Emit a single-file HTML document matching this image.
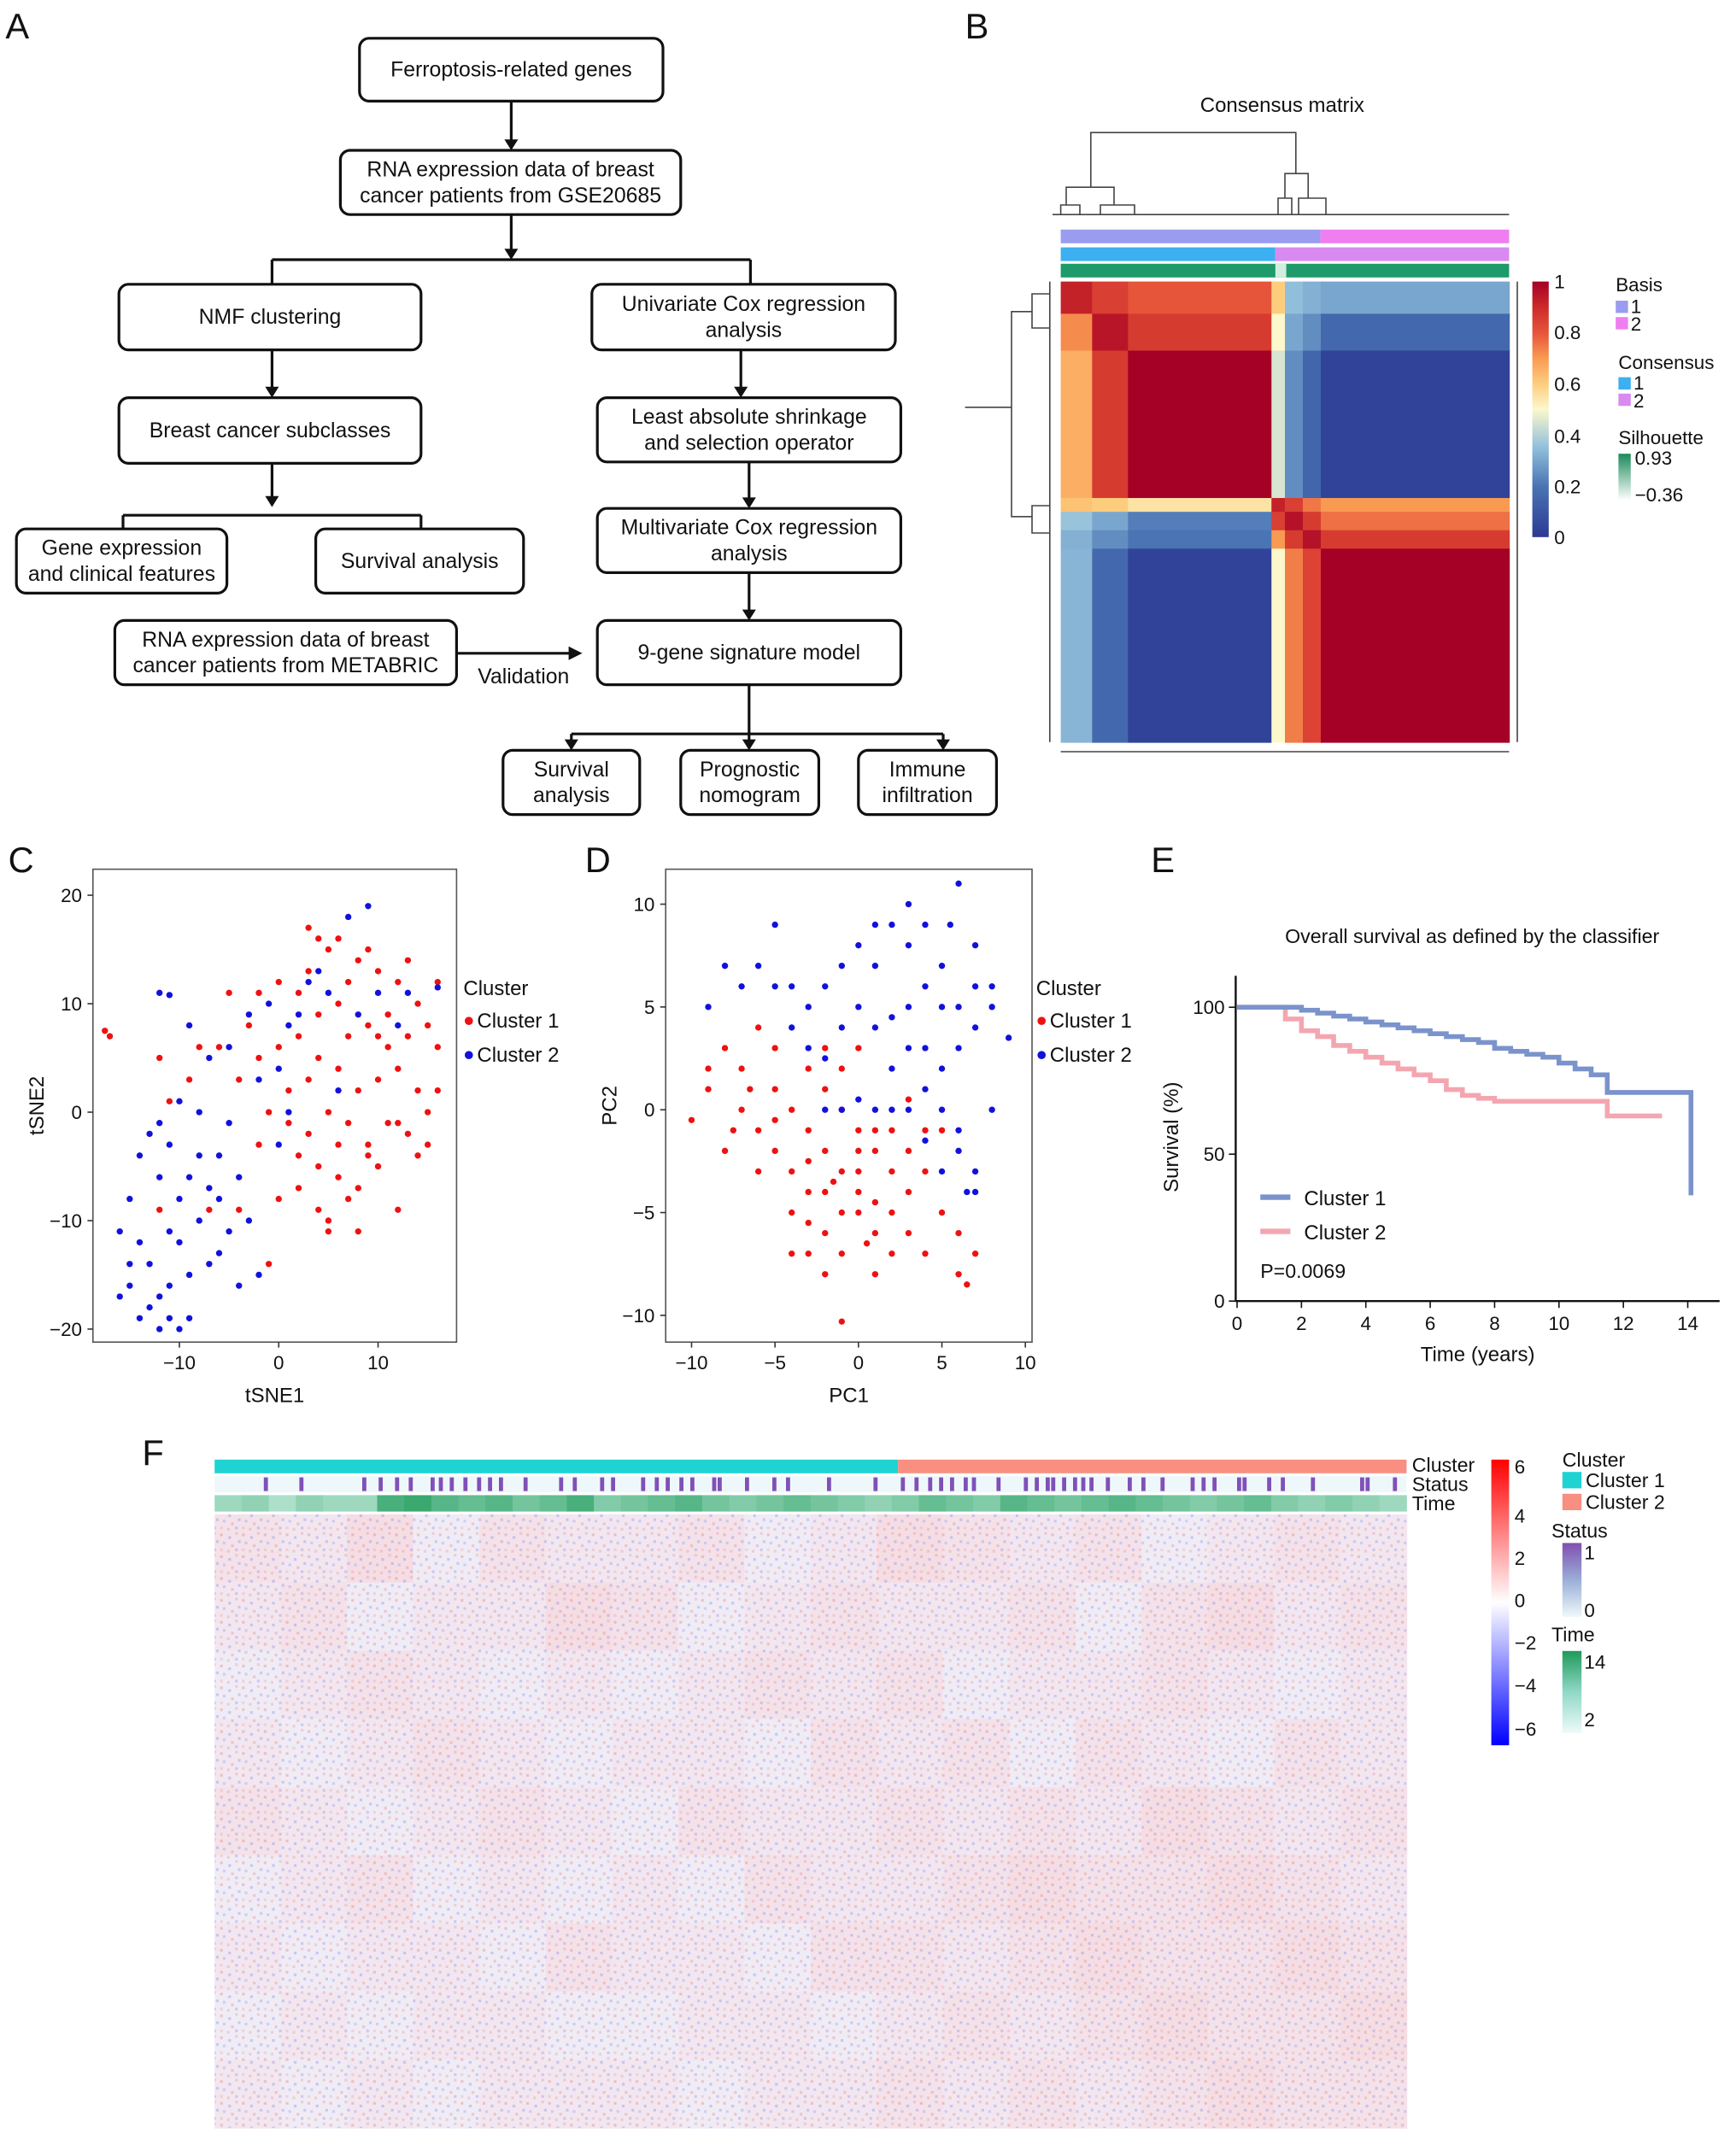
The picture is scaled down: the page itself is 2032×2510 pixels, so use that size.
<!DOCTYPE html>
<html><head><meta charset="utf-8"><style>
html,body{margin:0;padding:0;background:#fff}
svg{display:block;font-family:"Liberation Sans",sans-serif}
</style></head><body>
<svg id="fig" width="2032" height="2510" viewBox="0 0 1270 1568.75" xmlns="http://www.w3.org/2000/svg">
<defs>
<pattern id="noise" width="16" height="16" patternUnits="userSpaceOnUse">
<rect x="1" y="2" width="2" height="2" fill="#e06060" opacity="0.3"/><rect x="7" y="4" width="2" height="2" fill="#6060e0" opacity="0.28"/>
<rect x="12" y="1" width="2" height="2" fill="#e07070" opacity="0.25"/><rect x="3" y="8" width="2" height="2" fill="#7070e0" opacity="0.25"/>
<rect x="9" y="10" width="2" height="2" fill="#e06060" opacity="0.28"/><rect x="14" y="7" width="2" height="2" fill="#5a5ad8" opacity="0.25"/>
<rect x="1" y="13" width="2" height="2" fill="#f08080" opacity="0.25"/><rect x="12" y="13" width="2" height="2" fill="#6a6ae0" opacity="0.28"/>
<rect x="6" y="14" width="2" height="2" fill="#e06060" opacity="0.22"/>
</pattern>
<linearGradient id="cbB" x1="0" y1="1" x2="0" y2="0">
<stop offset="0" stop-color="#2b3a93"/><stop offset="0.2" stop-color="#4a74b4"/><stop offset="0.35" stop-color="#91bfdb"/><stop offset="0.5" stop-color="#fbf8cc"/><stop offset="0.6" stop-color="#fdcd7e"/><stop offset="0.7" stop-color="#f99a52"/><stop offset="0.8" stop-color="#e6543a"/><stop offset="0.9" stop-color="#cc2a2a"/><stop offset="1" stop-color="#a50026"/>
</linearGradient>
<linearGradient id="cbF" x1="0" y1="1" x2="0" y2="0"><stop offset="0" stop-color="#0000ff"/><stop offset="0.5" stop-color="#ffffff"/><stop offset="1" stop-color="#ff0000"/></linearGradient>
<linearGradient id="silG" x1="0" y1="0" x2="0" y2="1"><stop offset="0" stop-color="#1b8a5a"/><stop offset="1" stop-color="#ffffff"/></linearGradient>
<linearGradient id="stG" x1="0" y1="0" x2="0" y2="1"><stop offset="0" stop-color="#8050b0"/><stop offset="0.5" stop-color="#9aaed8"/><stop offset="1" stop-color="#eef8fa"/></linearGradient>
<linearGradient id="tmG" x1="0" y1="0" x2="0" y2="1"><stop offset="0" stop-color="#1f9a5a"/><stop offset="0.5" stop-color="#90d8c8"/><stop offset="1" stop-color="#eefaf8"/></linearGradient>
</defs>
<g id="panelA"></g>
<g id="panelB"></g>
<g id="panelC"></g>
<g id="panelD"></g>
<g id="panelE"></g>
<g id="panelF"></g>
</svg>
<script>
// ---------- data ----------
const consensusGroupSizes=[7,8,32,3,4,4,42];
const consensusValues=[
[0.92,0.85,0.80,0.60,0.35,0.32,0.30],
[0.72,0.95,0.86,0.50,0.30,0.25,0.16],
[0.66,0.86,1.00,0.45,0.25,0.15,0.03],
[0.62,0.60,0.55,0.92,0.85,0.75,0.70],
[0.36,0.30,0.22,0.85,0.96,0.86,0.76],
[0.32,0.25,0.20,0.70,0.86,0.96,0.86],
[0.33,0.16,0.03,0.50,0.74,0.84,1.00]];
const tsneC1=[[3,17],[4,16],[5,15],[8,14],[9,15],[7,12],[10,13],[12,12],[14,10],[16,12],[15,8],[13,7],[11,9],[9,8],[6,10],[4,9],[2,11],[0,12],[-2,11],[-3,8],[-5,11],[-6,6],[-4,3],[-2,5],[0,6],[2,7],[4,5],[6,4],[8,2],[10,3],[12,4],[14,2],[15,0],[13,-2],[11,-1],[9,-3],[7,-1],[5,0],[3,-2],[1,-1],[-1,0],[4,-5],[6,-6],[8,-7],[10,-5],[12,-9],[4,-9],[5,-10],[7,-8],[2,-7],[0,-8],[-2,-3],[-4,-9],[-7,-9],[-12,-9],[-17.5,7.5],[-17,7],[-1,-14],[-9,3],[-11,1],[5,-11],[9,-4],[14,-4],[16,6],[15,-3],[3,3],[1,2],[-8,6],[-12,5],[11,6],[6,16],[13,14],[10,7],[7,7],[3,13],[12,-1],[16,2],[8,-11],[6,-3],[2,-4]];
const tsneC2=[[-16,-17],[-15,-16],[-14,-19],[-13,-18],[-12,-20],[-11,-19],[-10,-20],[-9,-19],[-11,-16],[-13,-14],[-15,-14],[-12,-17],[-9,-15],[-7,-14],[-6,-13],[-8,-10],[-10,-8],[-12,-6],[-14,-4],[-15,-8],[-13,-2],[-11,-3],[-9,-6],[-7,-7],[-6,-4],[-8,0],[-10,1],[-12,-1],[-5,-1],[-4,-6],[-3,-10],[-5,-11],[-2,-15],[-12,11],[-11,10.8],[-9,8],[-7,5],[-5,6],[-3,9],[-1,10],[1,8],[-2,3],[0,4],[2,9],[3,12],[5,11],[7,18],[9,19],[4,13],[6,2],[8,9],[10,11],[12,8],[13,11],[16,11.5],[0,-3],[1,0],[-4,-16],[-14,-12],[-16,-11],[-10,-12],[-8,-4],[-6,-8],[-11,-11]];
const pcaC1=[[-10,-0.5],[-9,1],[-8,3],[-7,2],[-7,0],[-6,-1],[-6,-3],[-5,1],[-5,-2],[-4,0],[-4,-3],[-4,-5],[-3,2],[-3,-1],[-3,-4],[-2,-2],[-2,-6],[-2,1],[-1,-3],[-1,-7],[-1,0],[0,-2],[0,-5],[0,-4],[1,-1],[1,-6],[1,-8],[2,-3],[2,-5],[2,-7],[3,-2],[3,-4],[3,-6],[4,-3],[4,-7],[5,-5],[5,-1],[6,-6],[6,-8],[7,-7],[-1,-10.3],[-2,-8],[-3,-7],[0,3],[-5,3],[-6,4],[-8,-2],[-9,2],[-4,-7],[-2,-4],[1,-2],[0,-3],[-1,-5],[2,-1],[3,0.5],[-3,-2.5],[4,-1],[6.5,-8.5],[-7.5,-1],[-6.5,1],[-2,3],[-1,2],[0,-1],[-3,-5.5],[1,-4.5],[-1.5,-3.5],[0.5,-6.5],[-5,-0.5]];
const pcaC2=[[-9,5],[-8,7],[-7,6],[-6,7],[-5,6],[-4,4],[-3,5],[-2,6],[-1,7],[0,8],[1,7],[2,9],[3,8],[4,9],[5,7],[6,11],[7,8],[8,6],[9,3.5],[7,4],[6,3],[5,2],[4,1],[3,3],[2,2],[1,4],[0,5],[-1,4],[-2,2.5],[-3,3],[4,-1.5],[5,0],[6,-1],[6,-2],[7,-3],[7,-4],[6.5,-4],[5,-3],[3,0],[2,0],[1,0],[0,0.5],[-1,0],[-2,0],[3,5],[4,6],[5,5],[6,5],[2,4.5],[8,5],[-4,6],[-5,9],[1,9],[3,10],[5.5,9],[7,6],[8,0],[4,3]];
const survT1=[0,1.5,2,2.5,3,3.5,4,4.5,5,5.5,6,6.5,7,7.5,8,8.5,9,9.5,10,10.5,11,11.5,14,14.1];
const survS1=[100,100,99,98,97,96,95,94,93,92,91,90,89,88,86,85,84,83,81,79,77,71,71,36];
const survT2=[0,1,1.5,2,2.5,3,3.5,4,4.5,5,5.5,6,6.5,7,7.5,8,11.5,13.2];
const survS2=[100,100,96,92,90,87,85,83,81,79,77,75,72,70,69,68,63,63];
const heatValues=[
[0.2,0.1,0.3,0.0,0.2,0.1,0.1,0.2,0.0,0.1,0.3,0.2,0.1,0.2,0.0,0.1,0.2,0.1],
[0.1,0.2,0.0,0.1,0.1,0.3,0.2,0.0,0.1,0.2,0.1,0.1,0.2,0.0,0.2,0.3,0.1,0.2],
[0.0,0.1,0.2,0.1,0.0,0.1,0.0,0.1,0.2,0.1,0.2,0.0,0.1,0.1,0.2,0.1,0.0,0.1],
[0.1,0.0,0.1,0.2,0.1,0.0,0.1,0.1,0.0,0.2,0.1,0.2,0.0,0.2,0.1,0.0,0.2,0.1],
[0.2,0.1,0.0,0.1,0.2,0.1,0.0,0.2,0.1,0.1,0.2,0.1,0.2,0.1,0.3,0.2,0.1,0.2],
[0.0,0.1,0.2,0.0,0.1,0.0,0.1,0.0,0.2,0.1,0.1,0.2,0.3,0.2,0.2,0.3,0.2,0.1],
[0.1,0.0,0.1,0.1,0.0,0.2,0.1,0.1,0.0,0.2,0.2,0.1,0.2,0.3,0.2,0.2,0.3,0.2],
[0.0,0.1,0.0,0.1,0.1,0.0,0.0,0.1,0.1,0.0,0.1,0.2,0.1,0.2,0.3,0.2,0.2,0.3],
[0.1,0.0,0.1,0.0,0.1,0.1,0.1,0.0,0.1,0.1,0.2,0.1,0.2,0.1,0.2,0.3,0.2,0.2]];
const nSamples=436, cluster1Count=250;
const statusEvents=[18,31,54,60,66,71,79,82,86,91,96,100,104,113,126,131,141,145,156,161,165,170,174,182,184,194,204,209,224,241,251,256,261,265,269,274,277,286,296,300,304,306,310,314,317,320,326,334,339,346,357,361,365,374,376,385,390,401,419,421,431];
const timeBlocks=[5,6,4,6,5,5,11,12,10,9,10,8,9,11,7,8,9,10,8,7,8,9,8,7,6,7,9,8,7,10,9,8,9,10,9,8,7,8,9,7,6,7,6,5];
const flowBoxes=[
["Ferroptosis-related genes",263,28,222,46],
["RNA expression data of breast|cancer patients from GSE20685",249,110,249,47],
["NMF clustering",87,208,221,48],
["Univariate Cox regression|analysis",433,208,222,48],
["Breast cancer subclasses",87,291,221,48],
["Least absolute shrinkage|and selection operator",437,291,222,47],
["Gene expression|and clinical features",12,387,154,47],
["Survival analysis",231,387,152,47],
["Multivariate Cox regression|analysis",437,372,222,47],
["RNA expression data of breast|cancer patients from METABRIC",84,454,250,47],
["9-gene signature model",437,454,222,47],
["Survival|analysis",368,549,100,47],
["Prognostic|nomogram",498,549,101,47],
["Immune|infiltration",628,549,101,47]];
// ---------- helpers ----------
const NS="http://www.w3.org/2000/svg";
function mk(parent,tag,attrs,text){const e=document.createElementNS(NS,tag);for(const k in attrs)e.setAttribute(k,attrs[k]);if(text!==undefined)e.textContent=text;parent.appendChild(e);return e;}
function txt(p,x,y,s,size,anchor,name){const e=mk(p,"text",{x:x,y:y,"font-size":size,"text-anchor":anchor||"start",fill:"#111"},s);

return e;}
function lerpHex(a,b,t){t=Math.max(0,Math.min(1,t));const pa=[1,3,5].map(i=>parseInt(a.substr(i,2),16)),pb=[1,3,5].map(i=>parseInt(b.substr(i,2),16));return "rgb("+pa.map((v,i)=>Math.round(v+(pb[i]-v)*t)).join(",")+")";}
const cstops=[[0,"#2b3a93"],[0.2,"#4a74b4"],[0.35,"#91bfdb"],[0.5,"#fbf8cc"],[0.6,"#fdcd7e"],[0.7,"#f99a52"],[0.8,"#e6543a"],[0.9,"#cc2a2a"],[1,"#a50026"]];
function consColor(v){for(let i=1;i<cstops.length;i++){if(v<=cstops[i][0]){const t=(v-cstops[i-1][0])/(cstops[i][0]-cstops[i-1][0]);return lerpHex(cstops[i-1][1],cstops[i][1],t);}}return cstops[cstops.length-1][1];}
// ---------- Panel A ----------
const A=document.getElementById("panelA");
txt(A,4,28,"A",26,"start","panel-a-letter");
flowBoxes.forEach(b=>{const r=mk(A,"rect",{x:b[1],y:b[2],width:b[3],height:b[4],rx:7,fill:"#fff",stroke:"#111","stroke-width":2});


const lines=b[0].split("|");const cx=b[1]+b[3]/2,cy=b[2]+b[4]/2;
lines.forEach((l,i)=>txt(A,cx,cy+5+(i-(lines.length-1)/2)*19,l,15.5,"middle","flow-box-text"));});
function line(p,x1,y1,x2,y2,arrow){mk(p,"line",{x1:x1,y1:y1,x2:x2,y2:arrow?y2-6:y2,stroke:"#111","stroke-width":2});if(arrow){mk(p,"path",{d:`M${x2-5},${y2-8} L${x2+5},${y2-8} L${x2},${y2} Z`,fill:"#111"});}}
line(A,374,74,374,110,true);
line(A,374,157,374,190,true);
line(A,199,190,549,190);line(A,199,190,199,208);line(A,549,190,549,208);
line(A,199,256,199,291,true);line(A,542,256,542,291,true);
line(A,199,339,199,371,true);line(A,90,377,308,377);line(A,90,377,90,387);line(A,308,377,308,387);
line(A,548,338,548,372,true);line(A,548,419,548,454,true);
mk(A,"line",{x1:334,y1:478,x2:418,y2:478,stroke:"#111","stroke-width":2});mk(A,"path",{d:"M416,473 L426,478 L416,483 Z",fill:"#111"});
txt(A,383,500,"Validation",15.5,"middle","validation-label");
line(A,548,501,548,537);line(A,418,537,690,537);line(A,418,537,418,549,true);line(A,548,537,548,549,true);line(A,690,537,690,549,true);
// ---------- Panel B ----------
const B=document.getElementById("panelB");
txt(B,706,28,"B",26,"start","panel-b-letter");
txt(B,938,82,"Consensus matrix",15,"middle","consensus-title");
const mx0=776,mx1=1104,my0=206,my1=543;
const tot=consensusGroupSizes.reduce((a,b)=>a+b,0);
const cum=[0];consensusGroupSizes.forEach(s=>cum.push(cum[cum.length-1]+s));
const sx=i=>mx0+(mx1-mx0)*cum[i]/tot, sy=i=>my0+(my1-my0)*cum[i]/tot;
for(let r=0;r<7;r++)for(let c=0;c<7;c++){const e=mk(B,"rect",{x:sx(c),y:sy(r),width:sx(c+1)-sx(c)+0.5,height:sy(r+1)-sy(r)+0.5,fill:consColor(consensusValues[r][c])});

}
mk(B,"rect",{x:776,y:168,width:190,height:10,fill:"#9a9cf0"});mk(B,"rect",{x:966,y:168,width:138,height:10,fill:"#f07ef0"});
mk(B,"rect",{x:776,y:181,width:157,height:10,fill:"#3cb0f0"});mk(B,"rect",{x:933,y:181,width:171,height:10,fill:"#d88af0"});
mk(B,"rect",{x:776,y:193,width:328,height:10,fill:"#1f9a6a"});mk(B,"rect",{x:933,y:193,width:8,height:10,fill:"#cfeee0"});
const dg=mk(B,"g",{stroke:"#444","stroke-width":1,fill:"none"});


mk(dg,"path",{d:"M798,137 V97 H948 V127 M798,137 H780 V150 M798,137 H815 V150 M780,150 H776 V157 M780,150 H790 V157 M815,150 H830 V157 M815,150 H805 V157 M948,127 H940 V145 M948,127 H957 V145 M940,145 H935 V157 M940,145 H945 V157 M957,145 H950 V157 M957,145 H970 V157 M770,157 H1104"});
mk(dg,"path",{d:"M706,298 H740 V228 H755 M740,298 H740 V378 H755 M755,228 V215 H768 M755,228 V240 H768 M755,378 V370 H768 M755,378 V390 H768 M768,206 V543 M1110,206 V543 M776,550 H1104"});
mk(B,"rect",{x:1121,y:206,width:12,height:187,fill:"url(#cbB)"});
[["1",206],["0.8",243],["0.6",281],["0.4",319],["0.2",356],["0",393]].forEach(t=>txt(B,1137,t[1]+5,t[0],14,"start","colorbar-tick"));
txt(B,1182,213,"Basis",14,"start","legend-title");
mk(B,"rect",{x:1182,y:220,width:9,height:9,fill:"#9a9cf0"});txt(B,1193,229,"1",14);
mk(B,"rect",{x:1182,y:232,width:9,height:9,fill:"#f07ef0"});txt(B,1193,242,"2",14);
txt(B,1184,270,"Consensus",14,"start","legend-title");
mk(B,"rect",{x:1184,y:276,width:9,height:9,fill:"#3cb0f0"});txt(B,1195,285,"1",14);
mk(B,"rect",{x:1184,y:288,width:9,height:9,fill:"#d88af0"});txt(B,1195,298,"2",14);
txt(B,1184,325,"Silhouette",14,"start","legend-title");
mk(B,"rect",{x:1184,y:332,width:9,height:34,fill:"url(#silG)"});txt(B,1196,340,"0.93",14);txt(B,1196,367,"−0.36",14);
// ---------- scatter helper ----------
function scatter(G,box,xr,yr,xt,yt,d1,d2,xl,yl,letter,lx){
const sxf=v=>box.x0+(v-xr[0])/(xr[1]-xr[0])*(box.x1-box.x0);
const syf=v=>box.y1-(v-yr[0])/(yr[1]-yr[0])*(box.y1-box.y0);
txt(G,letter[1],letter[2],letter[0],26,"start","panel-letter");
const fr=mk(G,"rect",{x:box.x0,y:box.y0,width:box.x1-box.x0,height:box.y1-box.y0,fill:"#fff",stroke:"#555","stroke-width":1});


xt.forEach(v=>{mk(G,"line",{x1:sxf(v),y1:box.y1,x2:sxf(v),y2:box.y1+4,stroke:"#333"});txt(G,sxf(v),box.y1+20,v<0?"−"+(-v):String(v),14,"middle","x-tick");});
yt.forEach(v=>{mk(G,"line",{x1:box.x0-4,y1:syf(v),x2:box.x0,y2:syf(v),stroke:"#333"});txt(G,box.x0-8,syf(v)+5,v<0?"−"+(-v):String(v),14,"end","y-tick");});
d1.forEach(p=>{const c=mk(G,"circle",{cx:sxf(p[0]),cy:syf(p[1]),r:2.3,fill:"#ee1111"});});
d2.forEach(p=>{const c=mk(G,"circle",{cx:sxf(p[0]),cy:syf(p[1]),r:2.3,fill:"#1111dd"});});
txt(G,(box.x0+box.x1)/2,box.y1+44,xl,15,"middle","x-axis-title");
const yt2=txt(G,0,0,yl,15,"middle","y-axis-title");yt2.setAttribute("transform",`translate(${box.x0-36},${(box.y0+box.y1)/2}) rotate(-90)`);
txt(G,lx,728,"Cluster",15,"start","legend-title");
mk(G,"circle",{cx:lx+4,cy:747,r:3,fill:"#ee1111"});txt(G,lx+10,752,"Cluster 1",15,"start","legend-entry");
mk(G,"circle",{cx:lx+4,cy:772,r:3,fill:"#1111dd"});txt(G,lx+10,777,"Cluster 2",15,"start","legend-entry");
}
scatter(document.getElementById("panelC"),{x0:68,x1:334,y0:636,y1:982},[-18.7,17.9],[-21.2,22.4],[-10,0,10],[-20,-10,0,10,20],tsneC1,tsneC2,"tSNE1","tSNE2",["C",6,638],339);
scatter(document.getElementById("panelD"),{x0:487,x1:755,y0:636,y1:982},[-11.55,10.4],[-11.3,11.7],[-10,-5,0,5,10],[-10,-5,0,5,10],pcaC1,pcaC2,"PC1","PC2",["D",428,638],758);
// ---------- Panel E ----------
const E=document.getElementById("panelE");
txt(E,842,638,"E",26,"start","panel-e-letter");
txt(E,1077,690,"Overall survival as defined by the classifier",14.5,"middle","survival-title");
const ex=v=>905+v*23.55, ey=v=>952-v*2.15;
mk(E,"line",{x1:904,y1:714,x2:904,y2:952,stroke:"#111","stroke-width":1.5});
mk(E,"line",{x1:904,y1:952,x2:1258,y2:952,stroke:"#111","stroke-width":1.5});
[0,2,4,6,8,10,12,14].forEach(v=>{mk(E,"line",{x1:ex(v),y1:952,x2:ex(v),y2:957,stroke:"#111"});txt(E,ex(v),973,String(v),14,"middle","x-tick");});
[0,50,100].forEach(v=>{mk(E,"line",{x1:899,y1:ey(v),x2:904,y2:ey(v),stroke:"#111"});txt(E,896,ey(v)+5,String(v),14,"end","y-tick");});
txt(E,1081,996,"Time (years)",15,"middle","x-axis-title");
const ytE=txt(E,0,0,"Survival (%)",15,"middle","y-axis-title");ytE.setAttribute("transform","translate(862,832) rotate(-90)");
function step(T,S){let d=`M${ex(T[0])},${ey(S[0])}`;for(let i=1;i<T.length;i++){d+=` H${ex(T[i])} V${ey(S[i])}`;}return d;}
const c2=mk(E,"path",{d:step(survT2,survS2),fill:"none",stroke:"#f4a6b0","stroke-width":3.5});

const c1=mk(E,"path",{d:step(survT1,survS1),fill:"none",stroke:"#7b93cc","stroke-width":3.5});

mk(E,"line",{x1:922,y1:876,x2:944,y2:876,stroke:"#7b93cc","stroke-width":4});txt(E,954,882,"Cluster 1",15,"start","legend-entry");
mk(E,"line",{x1:922,y1:901,x2:944,y2:901,stroke:"#f4a6b0","stroke-width":4});txt(E,954,907,"Cluster 2",15,"start","legend-entry");
txt(E,922,935,"P=0.0069",14.5,"start","p-value");
// ---------- Panel F ----------
const F=document.getElementById("panelF");
txt(F,104,1072,"F",26,"start","panel-f-letter");
const hx0=157,hx1=1029,hy0=1108,hy1=1557,sw=(hx1-hx0)/nSamples;
mk(F,"rect",{x:hx0,y:1068,width:cluster1Count*sw,height:10,fill:"#1fd3d3"});
mk(F,"rect",{x:hx0+cluster1Count*sw,y:1068,width:(nSamples-cluster1Count)*sw,height:10,fill:"#f88f80"});
mk(F,"rect",{x:hx0,y:1080,width:hx1-hx0,height:12,fill:"#eef8fa"});
statusEvents.forEach(i=>{const e=mk(F,"rect",{x:hx0+i*sw,y:1081,width:Math.max(sw*1.5,2.5),height:10,fill:"#8050b8"});});
const bw=(hx1-hx0)/timeBlocks.length;
timeBlocks.forEach((t,i)=>{mk(F,"rect",{x:hx0+i*bw,y:1094,width:bw+0.3,height:12,fill:lerpHex("#c8eee0","#1f9a5a",(t-2)/12)});});
txt(F,1033,1077,"Cluster",14.5,"start","row-label");txt(F,1033,1091,"Status",14.5,"start","row-label");txt(F,1033,1105,"Time",14.5,"start","row-label");
const nr=heatValues.length,nc=heatValues[0].length,cw=(hx1-hx0)/nc,ch=(hy1-hy0)/nr;
heatValues.forEach((row,r)=>row.forEach((v,c)=>{const col=v>=0?lerpHex("#f0ecf6","#f7d8de",v*2.5):lerpHex("#f0ecf6","#d8d8f6",-v*2.5);
const e=mk(F,"rect",{x:hx0+c*cw,y:hy0+r*ch,width:cw+0.5,height:ch+0.5,fill:col});

}));
mk(F,"rect",{x:hx0,y:hy0,width:hx1-hx0,height:hy1-hy0,fill:"url(#noise)"});
mk(F,"rect",{x:1091,y:1068,width:13,height:209,fill:"url(#cbF)"});
[["6",1073],["4",1109],["2",1140],["0",1171],["−2",1202],["−4",1233],["−6",1265]].forEach(t=>txt(F,1108,t[1]+5,t[0],14,"start","colorbar-tick"));
txt(F,1143,1073,"Cluster",14.5,"start","legend-title");
mk(F,"rect",{x:1143,y:1077,width:14,height:12,fill:"#1fd3d3"});txt(F,1160,1088,"Cluster 1",14.5);
mk(F,"rect",{x:1143,y:1093,width:14,height:12,fill:"#f88f80"});txt(F,1160,1104,"Cluster 2",14.5);
txt(F,1135,1125,"Status",14.5,"start","legend-title");
mk(F,"rect",{x:1143,y:1129,width:14,height:54,fill:"url(#stG)"});txt(F,1159,1141,"1",14);txt(F,1159,1183,"0",14);
txt(F,1135,1201,"Time",14.5,"start","legend-title");
mk(F,"rect",{x:1143,y:1208,width:14,height:60,fill:"url(#tmG)"});txt(F,1159,1221,"14",14);txt(F,1159,1263,"2",14);
</script>
</body></html>
